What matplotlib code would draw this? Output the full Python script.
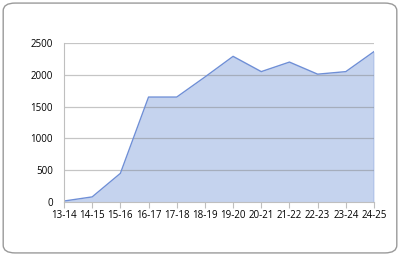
import matplotlib
matplotlib.use("Agg")
import matplotlib.pyplot as plt
from matplotlib.patches import FancyBboxPatch

categories = ["13-14", "14-15", "15-16", "16-17", "17-18", "18-19", "19-20",
              "20-21", "21-22", "22-23", "23-24", "24-25"]
values = [15, 80, 450, 1650, 1650, 1965, 2290, 2050, 2200, 2010, 2050, 2365]
yticks = [0, 500, 1000, 1500, 2000, 2500]

plt.rcParams['font.family'] = ['Open Sans', 'DejaVu Sans']

fig = plt.figure(figsize=(4.0, 2.56), dpi=100, facecolor="white")
border = FancyBboxPatch((0.008, 0.012), 0.984, 0.976,
                        boxstyle="round,pad=0,rounding_size=0.03",
                        transform=fig.transFigure, facecolor="none",
                        edgecolor="#9a9a9a", linewidth=1.0, zorder=10)
fig.patches.append(border)

ax = fig.add_axes([0.16, 0.211, 0.775, 0.621])
x = list(range(len(categories)))
ax.fill_between(x, values, 0, color="#c5d3ee", zorder=1, linewidth=0)
ax.plot(x, values, color="#6f8fd6", linewidth=1.0, zorder=3)
ax.plot([x[-1], x[-1]], [0, values[-1]], color="#6f8fd6", linewidth=1.0, zorder=3)

ax.set_xlim(0, len(categories) - 1)
ax.set_ylim(0, 2500)
ax.set_yticks(yticks)
ax.set_xticks(x)
ax.set_xticklabels(categories)
for yv in yticks[1:]:
    ax.axhline(yv, color="#808080", alpha=0.45, linewidth=0.9, zorder=2)

for s in ["top", "right"]:
    ax.spines[s].set_visible(False)
ax.spines["left"].set_color("#bfbfbf")
ax.spines["bottom"].set_color("#bfbfbf")
ax.spines["left"].set_zorder(4)
ax.tick_params(axis="y", length=0, labelsize=7, colors="#000000", pad=8)
ax.tick_params(axis="x", length=4, width=0.8, color="#bfbfbf", labelsize=7, pad=2)
ax.set_facecolor("none")

fig.savefig("out.png", dpi=100, facecolor="white")
